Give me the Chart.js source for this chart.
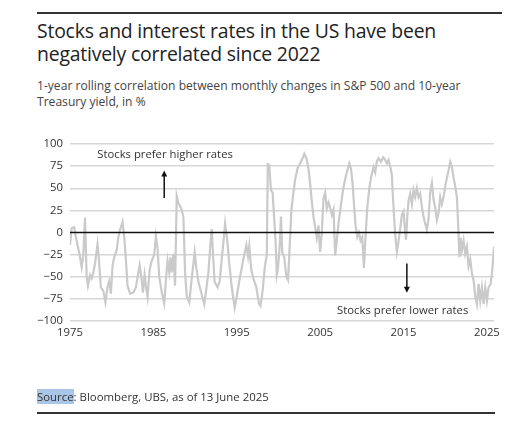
<!DOCTYPE html>
<html>
<head>
<meta charset="utf-8">
<script src="https://cdn.jsdelivr.net/npm/chart.js@4.4.0/dist/chart.umd.min.js"></script>
<style>
  body { margin: 0; background: #fff; font-family: "Open Sans", "Noto Sans", sans-serif; color: #333; }
  #wrap { position: relative; width: 519px; height: 440px; overflow: hidden; }
  #chartBox { position: absolute; left: 0; top: 0; width: 519px; height: 440px; }
  .rule { position: absolute; height: 2px; background: #333; }
  #title { position: absolute; left: 37px; top: 19px; font-size: 19.4px; line-height: 23px; color: #222; letter-spacing: -0.2px; }
  #subtitle { position: absolute; left: 37px; top: 78px; font-size: 12.1px; line-height: 16px; color: #444; }
  #source { position: absolute; left: 37px; top: 389px; font-size: 11.4px; color: #333; }
  #source span { background: #a9c6e6; }
</style>
</head>
<body>
<div id="wrap">
  <div class="rule" style="left:37px; top:12px; width:465px;"></div>
  <div id="title">Stocks and interest rates in the US have been<br>negatively correlated since 2022</div>
  <div id="subtitle">1-year rolling correlation between monthly changes in S&amp;P 500 and 10-year<br>Treasury yield, in %</div>
  <div id="chartBox"><canvas id="myChart"></canvas></div>
  <div id="source"><span>Source</span>: Bloomberg, UBS, as of 13 June 2025</div>
  <div class="rule" style="left:37px; top:412px; width:458px;"></div>
</div>
<script>
// x positions (decimal years) and 1-year rolling correlation, in %
var years = [
  1975.0, 1975.2, 1975.5, 1975.7, 1976.0, 1976.2, 1976.4, 1976.6, 1976.8, 1977.0,
  1977.15, 1977.4, 1977.6, 1977.8, 1978.0, 1978.3, 1978.45, 1978.7, 1979.0, 1979.25,
  1979.5, 1979.7, 1979.9, 1980.1, 1980.3, 1980.6, 1980.8, 1981.0, 1981.3, 1981.5,
  1981.7, 1981.9, 1982.2, 1982.6, 1982.9, 1983.2, 1983.35, 1983.55, 1983.75, 1983.95,
  1984.1, 1984.3, 1984.55, 1984.8, 1985.1, 1985.3, 1985.5, 1985.7, 1986.0, 1986.3,
  1986.55, 1986.7, 1986.9, 1987.05, 1987.2, 1987.4, 1987.6, 1987.8, 1988.0, 1988.3,
  1988.6, 1988.8, 1989.0, 1989.3, 1989.6, 1989.95, 1990.15, 1990.4, 1990.75, 1991.1,
  1991.35, 1991.6, 1991.85, 1992.0, 1992.15, 1992.35, 1992.7, 1992.95, 1993.2, 1993.45,
  1993.6, 1993.85, 1994.1, 1994.4, 1994.75, 1995.0, 1995.35, 1995.6, 1995.9, 1996.15,
  1996.35, 1996.5, 1996.75, 1997.0, 1997.35, 1997.65, 1997.85, 1998.1, 1998.35, 1998.6,
  1998.72, 1998.9, 1999.1, 1999.3, 1999.5, 1999.65, 1999.8, 1999.95, 2000.15, 2000.3,
  2000.45, 2000.7, 2000.95, 2001.15, 2001.35, 2001.55, 2001.75, 2002.0, 2002.3, 2002.6,
  2002.85, 2003.1, 2003.35, 2003.6, 2003.8, 2004.0, 2004.2, 2004.4, 2004.6, 2004.8,
  2005.0, 2005.2, 2005.4, 2005.6, 2005.8, 2006.0, 2006.2, 2006.4, 2006.6, 2006.8,
  2007.0, 2007.2, 2007.45, 2007.7, 2007.9, 2008.2, 2008.5, 2008.7, 2008.9, 2009.05,
  2009.25, 2009.45, 2009.65, 2009.85, 2010.05, 2010.25, 2010.45, 2010.65, 2010.9, 2011.1,
  2011.4, 2011.6, 2011.8, 2012.0, 2012.3, 2012.55, 2012.8, 2013.0, 2013.2, 2013.4,
  2013.6, 2013.7, 2013.85, 2014.0, 2014.2, 2014.4, 2014.6, 2014.8, 2015.0, 2015.2,
  2015.3, 2015.45, 2015.6, 2015.8, 2016.0, 2016.2, 2016.4, 2016.6, 2016.8, 2017.0,
  2017.2, 2017.4, 2017.6, 2017.8, 2018.0, 2018.2, 2018.4, 2018.6, 2018.8, 2019.0,
  2019.2, 2019.4, 2019.6, 2019.8, 2020.0, 2020.2, 2020.4, 2020.6, 2020.8, 2021.0,
  2021.2, 2021.4, 2021.5, 2021.6, 2021.7, 2021.85, 2022.0, 2022.2, 2022.4, 2022.6,
  2022.8, 2023.0, 2023.2, 2023.4, 2023.6, 2023.8, 2024.0, 2024.2, 2024.4, 2024.6,
  2024.8, 2025.0, 2025.2, 2025.45, 2025.65, 2025.85
];
var corr = [
  -14, 5, 6, -5, -18, -28, -39, -25, 17, -50,
  -60, -48, -52, -45, -35, -13, -28, -62, -66, -79,
  -62, -55, -69, -38, -28, -20, -5, 3, 12, -5,
  -30, -60, -69, -68, -62, -45, -37, -50, -68, -48,
  -60, -73, -42, -32, -25, -4, -18, -50, -67, -80,
  -48, -32, -45, -28, -45, -24, -60, 41, 33, 28,
  18, -45, -72, -79, -52, -22, -40, -56, -68, -81,
  -64, -45, -12, 4, -25, -56, -62, -55, -30, -6,
  10, -8, -35, -62, -85, -72, -52, -40, -25, -14,
  -27, -15, -43, -52, -62, -80, -83, -66, -40, -25,
  77, 76, 48, 45, 14, -9, -48, -40, -15, 18,
  -22, -28, -50, -54, -15, 25, 42, 60, 73, 78,
  83, 89, 84, 72, 55, 35, 18, 6, -6, 8,
  -22, 0, 38, 45, 27, 34, 28, 20, 26, -26,
  -9, 10, 28, 45, 56, 68, 78, 72, 55, 33,
  8, -5, 0, -9, -5, -40, -3, 28, 50, 62,
  74, 68, 80, 84, 80, 85, 82, 78, 82, 75,
  65, 45, 20, -2, -22, -10, 4, 20, 24, 0,
  -8, 18, 36, 44, 32, 48, 40, 50, 40, 44,
  29, 18, 10, 3, 15, 46, 56, 37, 28, 14,
  22, 40, 32, 40, 52, 62, 70, 80, 74, 62,
  52, 40, 20, -2, -28, -6, -20, -9, -24, -16,
  -38, -30, -46, -54, -72, -81, -58, -77, -62, -81,
  -62, -77, -62, -58, -42, -16
];
var xTicks = [1975, 1985, 1995, 2005, 2015, 2025];
var yTicks = [-100, -75, -50, -25, 0, 25, 50, 75, 100];

var points = years.map(function (yr, i) { return { x: yr, y: corr[i] }; });

function drawArrow(ctx, x, y1, y2) {
    var dir = y2 < y1 ? -1 : 1;
    ctx.beginPath();
    ctx.moveTo(x, y1);
    ctx.lineTo(x, y2 - dir * 4);
    ctx.stroke();
    ctx.beginPath();
    ctx.moveTo(x, y2);
    ctx.lineTo(x - 3, y2 - dir * 6);
    ctx.lineTo(x + 3, y2 - dir * 6);
    ctx.closePath();
    ctx.fill();
}

var notes = {
    id: 'notes',
    afterDatasetsDraw: function (chart) {
        var ctx = chart.ctx;
        var xs = chart.scales.x, ys = chart.scales.y, area = chart.chartArea;
        ctx.save();
        // zero line on top of the series
        ctx.strokeStyle = '#111';
        ctx.lineWidth = 1.5;
        ctx.beginPath();
        ctx.moveTo(area.left, ys.getPixelForValue(0));
        ctx.lineTo(area.right, ys.getPixelForValue(0));
        ctx.stroke();

        ctx.fillStyle = '#333';
        ctx.font = '11.3px "Open Sans", "Noto Sans", sans-serif';
        ctx.textAlign = 'center';
        ctx.textBaseline = 'middle';
        ctx.fillText('Stocks prefer higher rates', xs.getPixelForValue(1986.4), ys.getPixelForValue(88));
        ctx.fillText('Stocks prefer lower rates', xs.getPixelForValue(2014.9), ys.getPixelForValue(-88));

        ctx.strokeStyle = '#111';
        ctx.fillStyle = '#111';
        ctx.lineWidth = 1.5;
        drawArrow(ctx, xs.getPixelForValue(1986.3), ys.getPixelForValue(39), ys.getPixelForValue(70));
        drawArrow(ctx, xs.getPixelForValue(2015.4), ys.getPixelForValue(-35), ys.getPixelForValue(-68));
        ctx.restore();
    }
};

var ctx = document.getElementById('myChart').getContext('2d');
var myChart = new Chart(ctx, {
    type: 'line',
    data: {
        datasets: [{
            label: 'Correlation',
            data: points,
            borderColor: '#cacaca',
            borderWidth: 2.2,
            pointRadius: 0,
            tension: 0,
            fill: false
        }]
    },
    options: {
        responsive: true,
        maintainAspectRatio: false,
        animation: false,
        layout: { padding: { left: 20, right: 25, top: 144, bottom: 99 } },
        plugins: {
            legend: { display: false },
            tooltip: { enabled: false }
        },
        scales: {
            x: {
                type: 'linear',
                min: 1975,
                max: 2025.85,
                afterBuildTicks: function (scale) {
                    scale.ticks = xTicks.map(function (v) { return { value: v }; });
                },
                afterFit: function (scale) { scale.height = 20; },
                grid: { display: false, drawTicks: false },
                border: { display: false },
                ticks: {
                    color: '#333',
                    padding: 5,
                    maxRotation: 0,
                    font: { family: '"Open Sans", "Noto Sans", sans-serif', size: 11.3 },
                    callback: function (v) { return String(v); }
                }
            },
            y: {
                min: -100,
                max: 100,
                afterBuildTicks: function (scale) {
                    scale.ticks = yTicks.map(function (v) { return { value: v }; });
                },
                afterFit: function (scale) { scale.width = 50; },
                grid: {
                    color: function (c) { return c.tick && c.tick.value === 0 ? 'rgba(0,0,0,0)' : '#d6d6d6'; },
                    lineWidth: 1.5,
                    drawTicks: false
                },
                border: { display: false },
                ticks: {
                    color: '#333',
                    padding: 7,
                    font: { family: '"Open Sans", "Noto Sans", sans-serif', size: 11.3 },
                    callback: function (v) { return v < 0 ? '\u2212' + Math.abs(v) : String(v); }
                }
            }
        }
    },
    plugins: [notes]
});
</script>
</body>
</html>
